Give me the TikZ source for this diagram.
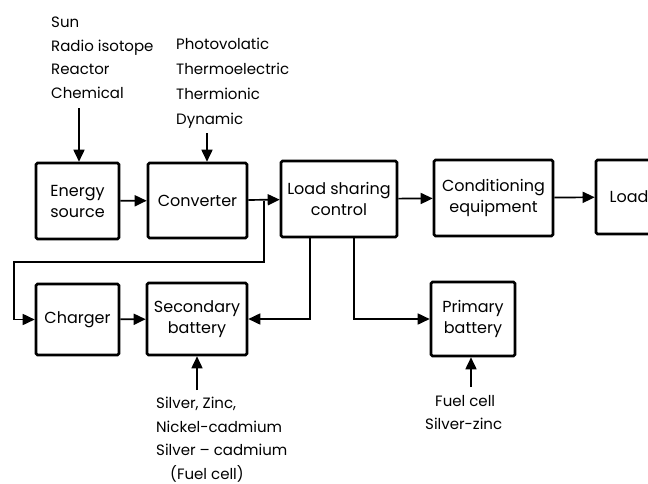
\documentclass[tikz,border=0pt]{standalone}
\usepackage{fontspec}
\setmainfont{Poppins}
\usetikzlibrary{arrows.meta,positioning,calc}
\begin{document}
\begin{tikzpicture}[x=1pt,y=-1pt,
  box/.style={draw,line width=2.6pt,rounded corners=1.5pt,inner sep=0pt,align=center,font=\fontsize{16}{21}\selectfont},
  arr/.style={line width=1.7pt,-{Triangle[length=12pt,width=11pt]}},
  lst/.style={inner sep=0pt,align=left,font=\fontsize{15}{23.5}\selectfont,anchor=north west}]
\useasboundingbox (0,0) rectangle (648,483);
\clip (0,0) rectangle (648,483);
\node[box,minimum width=83pt,minimum height=76pt] (energy) at (77.5,201) {Energy\\source};
\node[box,minimum width=99pt,minimum height=75pt] (conv) at (197.5,200.5) {Converter};
\node[box,minimum width=116pt,minimum height=76pt] (lsc) at (339,199) {Load sharing\\control};
\node[box,minimum width=119pt,minimum height=76pt] (cond) at (493.5,198) {Conditioning\\equipment};
\node[box,minimum width=66pt,minimum height=74pt] (load) at (629,197) {Load};
\node[box,minimum width=83pt,minimum height=71pt] (charger) at (77.5,319.5) {Charger};
\node[box,minimum width=100pt,minimum height=72pt] (sec) at (197,319) {Secondary\\battery};
\node[box,minimum width=84pt,minimum height=74pt] (prim) at (473,319) {Primary\\battery};
% source lists
\node[lst] (srclist) at (51,17) {Sun\\Radio isotope\\Reactor\\Chemical};
\node[lst,font=\fontsize{15}{24.8}\selectfont] (convlist) at (176,38) {Photovolatic\\Thermoelectric\\Thermionic\\Dynamic};
\node[lst] (seclist) at (156,397) {Silver, Zinc,\\Nickel-cadmium\\Silver -- cadmium\\\hspace*{14pt}(Fuel cell)};
\node[lst] (primlist) at (425,395) {\hspace*{10pt}Fuel cell\\Silver-zinc};
\coordinate (s1) at (79,108);
\coordinate (s2) at (207,133);
\coordinate (s3) at (197,390);
\coordinate (s4) at (471,387);
\draw[arr] (s1) -- (s1 |- energy.north);
\draw[arr] (s2) -- (s2 |- conv.north);
\draw[arr] (s3) -- (s3 |- sec.south);
\draw[arr] (s4) -- (s4 |- prim.south);
% main chain
\draw[arr] (energy) -- (conv);
\draw[arr] (conv) -- (lsc);
\draw[arr] (lsc) -- (cond);
\draw[arr] (cond) -- (load);
\coordinate (j) at (264,200.5);
\coordinate (jl) at (14,262);
\draw[arr] (j) |- (jl) |- (charger.west);
\draw[arr] (charger) -- (sec);
\draw[arr] ([xshift=-29pt]lsc.south) |- (sec.east);
\draw[arr] ([xshift=15pt]lsc.south) |- (prim.west);
\end{tikzpicture}
\end{document}
